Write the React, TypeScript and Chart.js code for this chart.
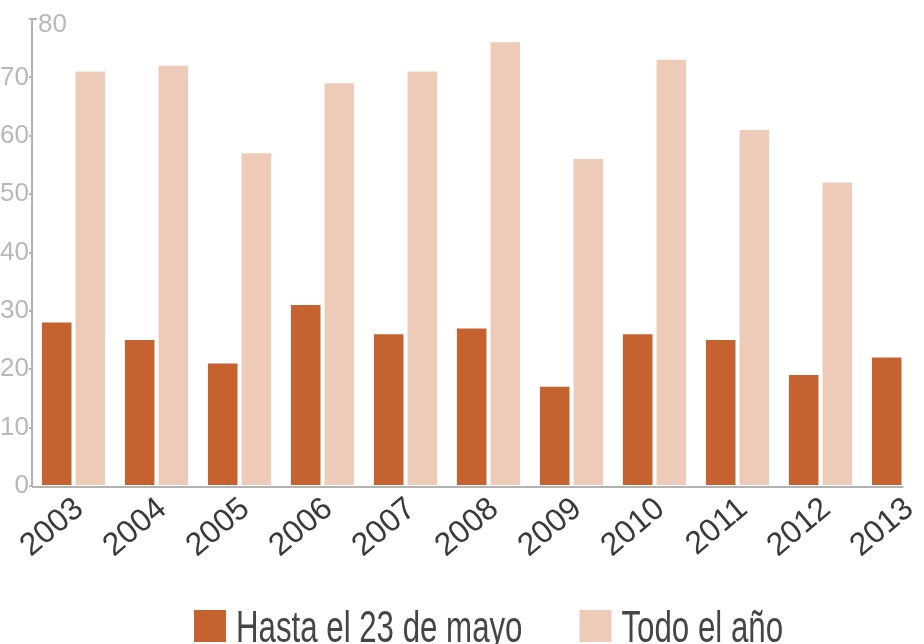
import React, { useEffect, useRef } from "react";
import { Chart, registerables } from "chart.js";

Chart.register(...registerables);

const years = ["2003", "2004", "2005", "2006", "2007", "2008", "2009", "2010", "2011", "2012", "2013"];
const hastaMayo = [28, 25, 21, 31, 26, 27, 17, 26, 25, 19, 22];
const todoAnio: (number | null)[] = [71, 72, 57, 69, 71, 76, 56, 73, 61, 52, null];
const yTicks = [0, 10, 20, 30, 40, 50, 60, 70, 80];
const seriesLabels = ["Hasta el 23 de mayo", "Todo el año"];

const DARK = "#c6622f";
const LIGHT = "#eecbb9";
const AXIS = "#b3b3b3";
const YLABEL = "#b8b8b8";
const XLABEL = "#3a3a3a";
const LEGEND = "#454545";
const SANS = "'Liberation Sans', Arial, sans-serif";

const axisDecor = {
  id: "axisDecor",
  afterDatasetsDraw(chart: any) {
    const { ctx, chartArea, scales } = chart;
    const y = scales.y;
    const top = y.getPixelForValue(yTicks[yTicks.length - 1]);
    const base = y.getPixelForValue(0);
    const meta = chart.getDatasetMeta(0);
    const last = meta.data[meta.data.length - 1];
    const right = last.x + last.width / 2 + 2;
    ctx.save();
    ctx.strokeStyle = AXIS;
    ctx.lineWidth = 2;
    ctx.beginPath();
    ctx.moveTo(chartArea.left - 1, top);
    ctx.lineTo(chartArea.left + 5, top);
    ctx.stroke();
    ctx.beginPath();
    ctx.moveTo(chartArea.left, base + 1);
    ctx.lineTo(right, base + 1);
    ctx.stroke();
    ctx.fillStyle = YLABEL;
    ctx.font = `26px ${SANS}`;
    ctx.textAlign = "left";
    ctx.textBaseline = "middle";
    ctx.fillText(String(yTicks[yTicks.length - 1]), chartArea.left + 6, top + 6);
    ctx.restore();
  },
};

// condensed legend drawn under the axis labels
const condensedLegend = {
  id: "condensedLegend",
  afterDraw(chart: any) {
    const { ctx, chartArea } = chart;
    const sx = 0.71;
    const box = 32;
    const textGap = 10;
    const itemGap = 57;
    ctx.save();
    ctx.font = `44px ${SANS}`;
    const items = chart.data.datasets.map((ds: any) => ({
      label: ds.label as string,
      color: ds.backgroundColor as string,
      w: ctx.measureText(ds.label).width * sx,
    }));
    const total = items.reduce((a: number, it: any) => a + box + textGap + it.w, 0) + itemGap * (items.length - 1);
    let x = (chartArea.left + chartArea.right) / 2 - total / 2;
    const yTop = chartArea.bottom + 124;
    for (const it of items) {
      ctx.fillStyle = it.color;
      ctx.fillRect(x, yTop, box, box);
      x += box + textGap;
      ctx.save();
      ctx.translate(x, yTop + box);
      ctx.scale(sx, 1);
      ctx.fillStyle = LEGEND;
      ctx.textAlign = "left";
      ctx.textBaseline = "alphabetic";
      ctx.fillText(it.label, 0, 0);
      ctx.restore();
      x += it.w + itemGap;
    }
    ctx.restore();
  },
};

export default function App() {
  const ref = useRef<HTMLCanvasElement>(null);
  useEffect(() => {
    if (!ref.current) return;
    const chart = new Chart(ref.current, {
      type: "bar",
      data: {
        labels: years,
        datasets: [
          { label: seriesLabels[0], data: hastaMayo, backgroundColor: DARK, categoryPercentage: 0.81, barPercentage: 0.88 },
          { label: seriesLabels[1], data: todoAnio, backgroundColor: LIGHT, categoryPercentage: 0.81, barPercentage: 0.88 },
        ],
      },
      options: {
        responsive: false,
        animation: false,
        devicePixelRatio: 1,
        layout: { padding: { top: 19, left: 0, right: 0, bottom: 88 } },
        plugins: {
          tooltip: { enabled: false },
          legend: { display: false },
        },
        scales: {
          x: {
            grid: { display: false, drawTicks: false },
            border: { display: false },
            ticks: {
              color: XLABEL,
              font: { size: 32, family: SANS },
              minRotation: 40,
              maxRotation: 40,
              autoSkip: false,
              padding: 4,
              labelOffset: 6,
            },
            afterFit: (s: any) => {
              s.height = 70;
            },
          },
          y: {
            min: 0,
            max: 80,
            grid: { display: true, drawOnChartArea: false, drawTicks: true, tickLength: 3, color: AXIS, lineWidth: 2 },
            border: { display: true, color: AXIS, width: 2 },
            afterBuildTicks: (s: any) => {
              s.ticks = yTicks.map((v) => ({ value: v }));
            },
            ticks: {
              color: YLABEL,
              padding: 0,
              font: { size: 26, family: SANS, lineHeight: 1 },
              callback: (v: any) => (Number(v) === yTicks[yTicks.length - 1] ? "" : String(v)),
            },
            afterFit: (s: any) => {
              s.width = 32;
            },
          },
        },
      },
      plugins: [axisDecor, condensedLegend],
    });
    return () => chart.destroy();
  }, []);
  return (
    <div style={{ position: "absolute", left: 0, top: 0, width: 924, height: 644, overflow: "hidden", background: "#fff" }}>
      <canvas ref={ref} width={945} height={644} style={{ display: "block" }} />
    </div>
  );
}
